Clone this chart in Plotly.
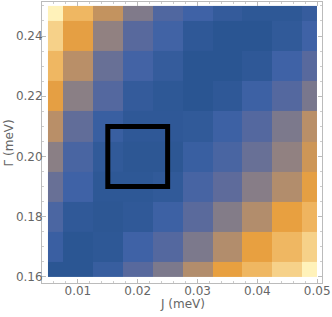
import plotly.graph_objects as go

J_vals = [0.005, 0.010, 0.015, 0.020, 0.025, 0.030, 0.035, 0.040, 0.045, 0.050]
G_vals = [0.16, 0.17, 0.18, 0.19, 0.20, 0.21, 0.22, 0.23, 0.24, 0.25]

# rows: bottom (0.16) to top (0.25); columns J=0.005..0.05
row_016 = [0.03, 0.03, 0.14, 0.32, 0.44, 0.60, 0.76, 0.85, 0.92, 1.00]
row_017 = [0.16, 0.03, 0.05, 0.20, 0.30, 0.44, 0.60, 0.76, 0.85, 0.92]
row_018 = [0.26, 0.07, 0.04, 0.07, 0.18, 0.33, 0.46, 0.60, 0.76, 0.84]
row_019 = [0.38, 0.20, 0.05, 0.05, 0.08, 0.24, 0.35, 0.47, 0.60, 0.75]
row_020 = [0.48, 0.25, 0.08, 0.04, 0.04, 0.15, 0.25, 0.38, 0.50, 0.68]
row_021 = [0.62, 0.36, 0.15, 0.06, 0.06, 0.08, 0.18, 0.30, 0.44, 0.62]
row_022 = [0.75, 0.48, 0.30, 0.10, 0.05, 0.02, 0.06, 0.18, 0.30, 0.43]
row_023 = [0.85, 0.62, 0.38, 0.22, 0.11, 0.02, 0.02, 0.06, 0.20, 0.32]
row_024 = [0.92, 0.75, 0.50, 0.32, 0.21, 0.06, 0.02, 0.02, 0.08, 0.20]
row_025 = [1.00, 0.85, 0.65, 0.45, 0.28, 0.20, 0.10, 0.05, 0.05, 0.12]

Z = [row_016, row_017, row_018, row_019, row_020,
     row_021, row_022, row_023, row_024, row_025]

box_J = [0.015, 0.025]
box_G = [0.19, 0.21]

x_ticks = [0.01, 0.02, 0.03, 0.04, 0.05]
y_ticks = [0.16, 0.18, 0.20, 0.22, 0.24]

def edges(v):
    e = [v[0]]
    for a, b in zip(v[:-1], v[1:]):
        e.append((a + b) / 2)
    e.append(v[-1])
    return e

cscale = [
    [0.00, "#285490"],
    [0.20, "#3f62a6"],
    [0.35, "#5e6b9b"],
    [0.48, "#8a7f85"],
    [0.62, "#b98f68"],
    [0.76, "#e8a040"],
    [0.87, "#f1bc6a"],
    [1.00, "#fff2ba"],
]

fig = go.Figure()
fig.add_trace(go.Heatmap(
    x=edges(J_vals), y=edges(G_vals), z=Z,
    colorscale=cscale, zmin=0, zmax=1, showscale=False,
    hoverinfo="skip",
))
fig.add_shape(type="rect", x0=box_J[0], x1=box_J[1], y0=box_G[0], y1=box_G[1],
              line=dict(color="black", width=5), xref="x", yref="y")

tickfont = dict(family="DejaVu Sans", size=12, color="#666666")
axcommon = dict(
    showline=True, linecolor="#bbbbbb", linewidth=1, mirror="ticks",
    ticks="inside", ticklen=4, tickcolor="#bbbbbb", showgrid=False,
    zeroline=False, tickfont=tickfont, ticklabeloverflow="allow",
)
fig.update_xaxes(
    range=[0.0040, 0.0508], tickvals=x_ticks,
    ticktext=[f"{v:.2f}" for v in x_ticks],
    minor=dict(dtick=0.002, ticks="inside", ticklen=2, tickcolor="#cccccc", tick0=0),
    ticklabelstandoff=-3,
    **axcommon,
)
fig.update_yaxes(
    range=[0.158, 0.2513], tickvals=y_ticks,
    ticktext=[f"{v:.2f}" for v in y_ticks],
    minor=dict(dtick=0.005, ticks="inside", ticklen=2, tickcolor="#cccccc", tick0=0),
    ticklabelstandoff=-4,
    **axcommon,
)
titlefont = dict(family="DejaVu Sans", size=12, color="#666666")
fig.add_annotation(text="J (meV)", xref="paper", yref="paper", x=0.5, y=-0.075,
                   xanchor="center", yanchor="middle", showarrow=False, font=titlefont)
fig.add_annotation(text="Γ (meV)", xref="paper", yref="paper", x=-0.118, y=0.5,
                   xanchor="center", yanchor="middle", textangle=-90, showarrow=False,
                   font=titlefont)
fig.update_layout(
    width=332, height=317,
    margin=dict(l=42, r=8, t=1, b=34),
    plot_bgcolor="white", paper_bgcolor="white",
)
fig.write_html("out.html", config={"displayModeBar": False},
               post_script="document.body.style.margin='0';document.body.style.overflow='hidden';")
